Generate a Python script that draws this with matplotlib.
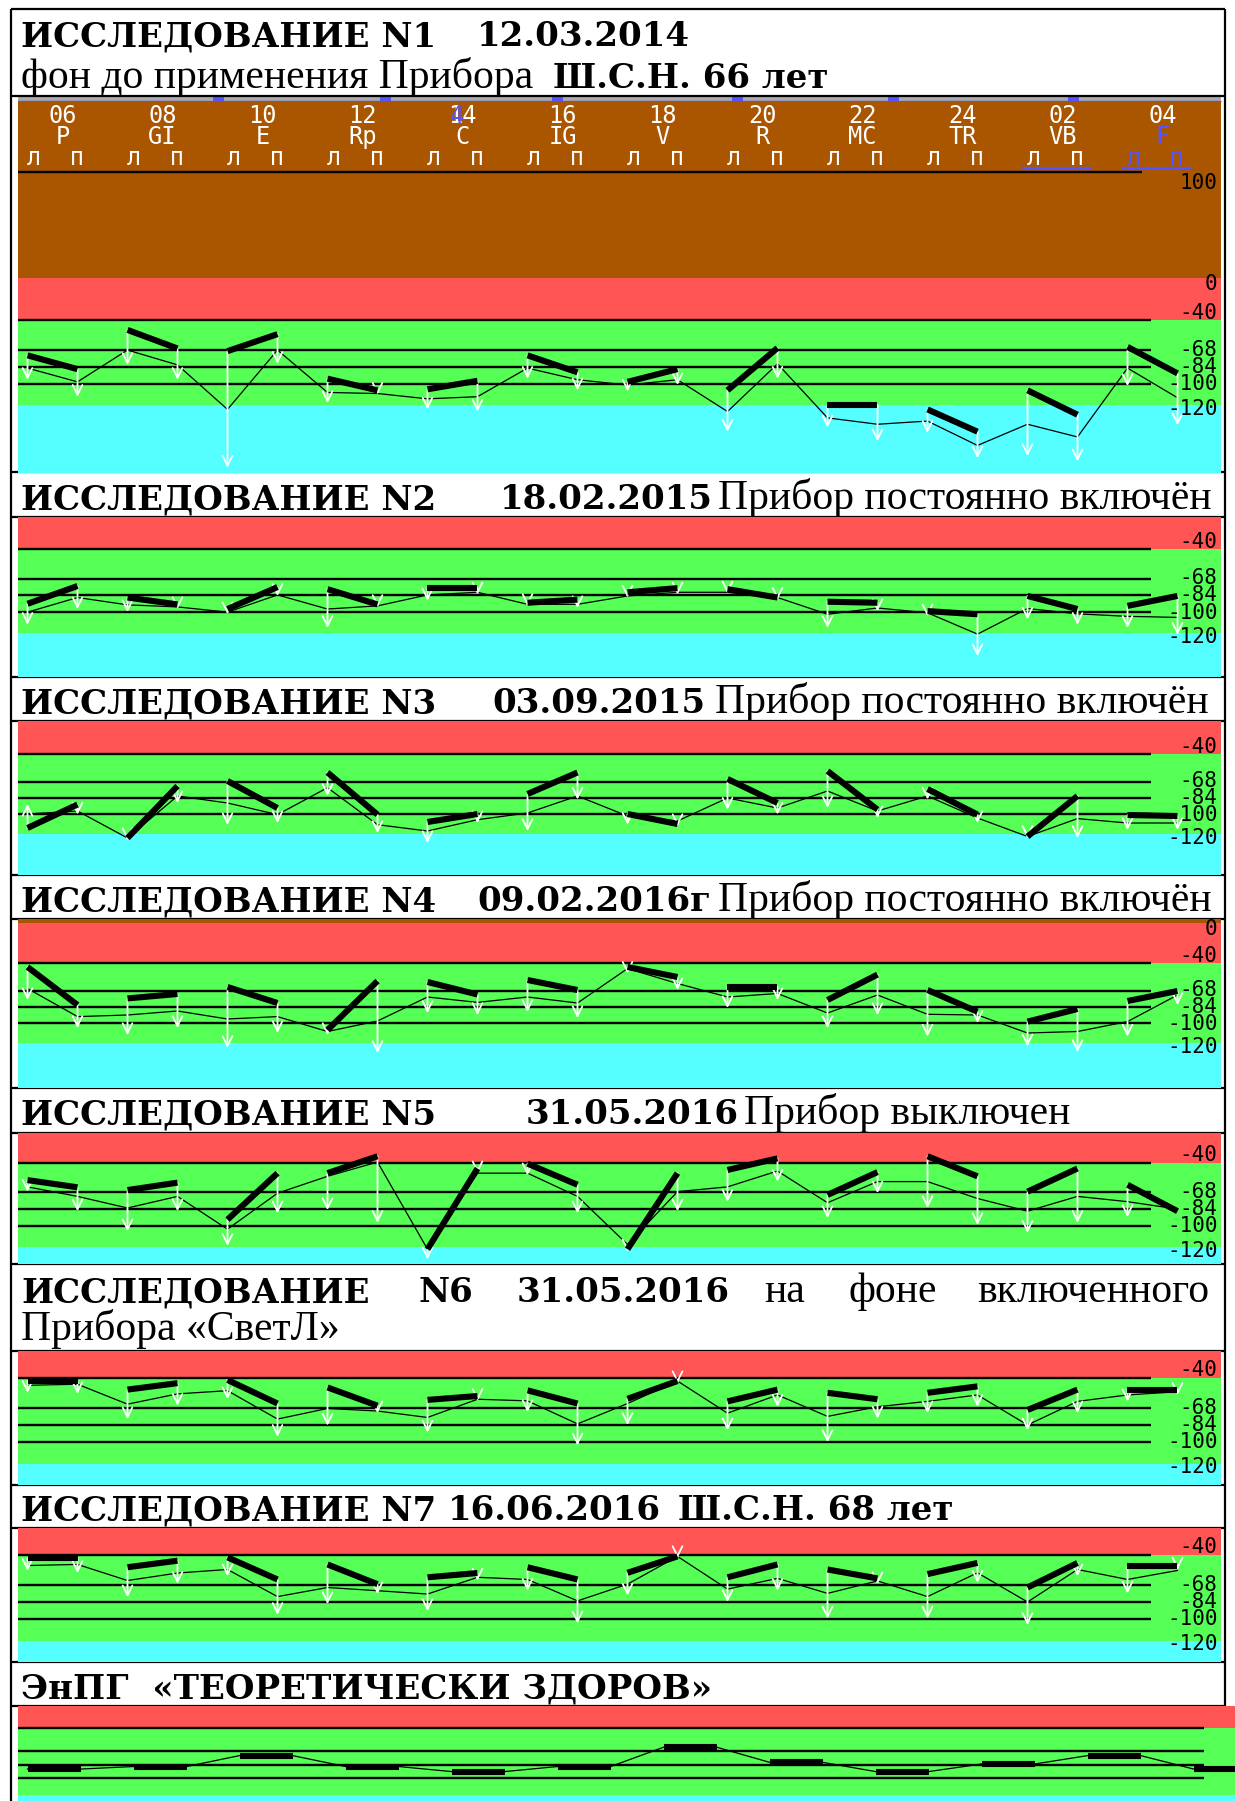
import numpy as np
import matplotlib
matplotlib.use("Agg")
import matplotlib.pyplot as plt
from matplotlib.patches import Rectangle

W, H = 1235, 1801

meridians = ["06", "08", "10", "12", "14", "16", "18", "20", "22", "24", "02", "04"]
channels = ["P", "GI", "E", "Rp", "C", "IG", "V", "R", "MC", "TR", "VB", "F"]
levels = [-40, -68, -84, -100]

# study 1  12.03.2014
s1_top = [-73, -86, -49, -66.5, -69, -53, -95, -106, -105, -97, -73, -89,
          -98, -86, -106, -66, -120, -120, -124, -145, -106, -129, -65, -90]
s1_mid = [-85, -98, -68, -82, -124, -68, -108, -109, -114, -112, -85, -96,
          -101, -96, -126, -81, -132, -138, -135, -158, -138, -150, -85, -113]
s1_tip = [-96, -112, -82, -96, -179, -81, -118, -110, -124, -126, -95, -106,
          -107, -101, -145, -95, -141, -154, -146, -170, -168, -173, -102, -139]

# study 2  18.02.2015
s2_top = [-92, -75, -86, -92.6, -97, -76, -78, -92.6, -77, -77, -91, -88,
          -81, -77, -78, -86, -90, -91, -99, -102, -84.5, -97, -94, -84.5]
s2_mid = [-100, -86, -93, -95, -100, -83.5, -97, -94, -83.5, -81, -92.5, -92.5,
          -84.5, -81, -81, -86, -102, -96, -100.6, -121, -96.5, -101.6, -104, -105]
s2_tip = [-112, -97, -100, -97, -102, -84.5, -115, -95, -89, -83, -94, -96,
          -86, -83, -82, -88, -115, -99, -104, -142, -107, -112, -115, -121.6]

# study 3  03.09.2015
s3_top = [-114, -90.5, -124, -72, -67, -94, -58.5, -100.6, -108, -100, -80, -58.5,
          -100, -110, -65, -89, -57, -95.6, -75, -100.6, -122.5, -82, -101, -102]
s3_mid = [-100, -97, -124, -82, -89, -100.6, -73.7, -110.7, -117, -105.7, -99, -82,
          -102, -107, -84, -94, -77, -97, -82, -104, -122.5, -104.6, -109, -109]
s3_tip = [-90, -100.6, -126, -89, -111, -109, -82, -119, -129, -109, -117, -85.5,
          -110.7, -112, -95.6, -100.6, -94, -104, -85.5, -109, -124, -124, -116, -116]

# study 4  09.02.2016
s4_top = [-44, -82, -75.4, -71, -64, -80, -107, -58, -59, -71.5, -57, -67,
          -44, -54, -64, -64, -77, -51.6, -67, -88.7, -98.6, -86, -78, -68]
s4_mid = [-65.5, -93.6, -92, -88, -96, -93.6, -108.5, -98, -74, -79.4, -74, -80,
          -45.6, -60.5, -74, -70.5, -90, -72, -91.3, -92, -110, -108.5, -98.6, -72]
s4_tip = [-77, -105, -112, -105, -125, -110, -112, -130, -90, -92, -89, -95,
          -50.6, -67, -85, -77, -105, -92, -113.5, -100, -123.4, -129, -113.5, -82]

# study 5  31.05.2016
s5_top = [-56.6, -63.4, -66, -59, -94, -50, -50, -34, -122, -45.6, -41, -61,
          -122, -50, -47, -36, -70.6, -49, -34, -53, -67.5, -45.6, -61, -86]
s5_mid = [-63, -72, -83, -72, -103, -69, -53, -39.5, -122, -50, -50, -72,
          -117.5, -67.5, -63, -48, -78, -58, -58, -74, -86, -72, -77, -84]
s5_tip = [-67.5, -86, -105, -86, -119, -88, -85, -97, -131.5, -50, -52, -88,
          -124, -86, -77, -58, -92.5, -69, -83, -99, -106.5, -97, -91.5, -86]

# study 6  31.05.2016 (SvetL on)
s6_top = [-43, -43, -51, -45, -42, -64, -49, -66, -60.6, -57, -51.7, -64,
          -59.6, -43, -62, -51, -54, -60, -54, -48, -70, -51, -51, -51]
s6_mid = [-47, -46, -64.6, -55, -52, -78.5, -68.6, -71, -77, -60, -61.5, -83,
          -64, -43, -73, -56, -76, -67, -62, -56, -84, -62, -56, -53]
s6_tip = [-54, -55, -78.5, -66, -60, -95, -84.6, -73, -91, -61.5, -72, -103,
          -84, -45, -89, -67, -100, -78, -73, -67, -89, -73, -62, -56]

# study 7  16.06.2016
s7_top = [-43, -43, -51.6, -45.5, -42.4, -63, -49, -67.4, -61, -57, -51.6, -63,
          -56.8, -41.5, -61, -49, -53.7, -62, -58, -47.6, -70.5, -47.6, -50.7, -50.7]
s7_mid = [-50, -49, -64, -57, -53.7, -79, -70.5, -73.5, -76.6, -61, -63, -83,
          -67.4, -41.5, -72, -62, -76, -64.4, -79, -56.8, -84, -53.7, -63, -54.6]
s7_tip = [-55, -57, -79.6, -67, -60, -96, -86, -76.6, -92.4, -64, -73.5, -104,
          -78, -43, -84, -73.5, -99.5, -67.4, -99.5, -66, -105.5, -60, -76, -53.7]

# "theoretically healthy" reference, one value per meridian
healthy = [-89, -86, -73, -86, -92, -86, -63, -81, -92, -83, -73, -89]

BROWN = "#AA5500"
RED = "#FF5555"
GREEN = "#55FF55"
CYAN = "#55FFFF"
BLUE = "#5555FF"
GRAY = "#AAAAAA"
MONO = "DejaVu Sans Mono"

fig = plt.figure(figsize=(W / 100, H / 100), dpi=100)
bg = fig.add_axes([0, 0, 1, 1])
bg.set_xlim(0, W)
bg.set_ylim(H, 0)
bg.axis("off")


def add_panel(y0, y1, ylim, x1=1221, xlim=(-0.19, 23.87), brown=False):
    ax = fig.add_axes([18 / W, 1 - y1 / H, (x1 - 18) / W, (y1 - y0) / H])
    ax.set_xlim(*xlim)
    ax.set_ylim(*ylim)
    ax.axis("off")
    if brown:
        ax.axhspan(0, 400, color=BROWN, lw=0)
        ax.axhspan(-40, 0, color=RED, lw=0)
    else:
        ax.axhspan(-40, 400, color=RED, lw=0)
    ax.axhspan(-120, -40, color=GREEN, lw=0)
    ax.axhspan(-400, -120, color=CYAN, lw=0)
    return ax


def draw_study(ax, top, mid, tip, extra_labels=(), line_end=22.47):
    x = np.arange(len(top))
    ax.hlines(levels, ax.get_xlim()[0], line_end, color="black", lw=1.7, zorder=2)
    ax.plot(x, mid, color="black", lw=0.9, zorder=3)
    for j in range(len(top)):
        if abs(tip[j] - top[j]) > 1:
            ax.annotate("", xy=(j, tip[j]), xytext=(j, top[j]),
                        arrowprops=dict(arrowstyle="->,head_length=0.7,head_width=0.35",
                                        color="white", lw=1.3, shrinkA=0, shrinkB=0),
                        zorder=4)
    for k in range(len(top) // 2):
        ax.plot([2 * k, 2 * k + 1], [top[2 * k], top[2 * k + 1]], color="black",
                lw=4.4, solid_capstyle="butt", zorder=5)
    lab = dict(ha="right", va="center", fontsize=15, family=MONO, color="black", zorder=6)
    for s, yy in extra_labels:
        ax.text(23.8, yy, s, **lab)
    ax.text(23.8, -33, "-40", **lab)
    ax.text(23.8, -84, "-68\n-84\n-100", multialignment="right", linespacing=0.82, **lab)
    ax.text(23.8, -123.5, "-120", **lab)


# panel 1
ax1 = add_panel(101, 473, (-184, 167), brown=True)
draw_study(ax1, s1_top, s1_mid, s1_tip, [("100", 90), ("0", -6)])
ax1.hlines(100, -0.19, 22.3, color="black", lw=1.7)
hdr = dict(ha="center", va="center", fontsize=17, family=MONO, linespacing=0.86,
           multialignment="center")
for k, m in enumerate(meridians):
    if k < 11:
        ax1.text(2 * k + 0.7, 133, m + "\n" + channels[k] + "\nл  п ", color="white", **hdr)
    else:
        ax1.text(2 * k + 0.7, 153, m, color="white", **hdr)
        ax1.text(2 * k + 0.7, 123, channels[k] + "\nл  п ", color=BLUE, **hdr)
    if k >= 10:
        ax1.hlines(104, 2 * k - 0.1, 2 * k + 1.3, color=BLUE, lw=1.6)
ax1.text(8.58, 153, "4", color=BLUE, ha="center", va="center", fontsize=17,
         family=MONO)

# scroll strip above panel 1
bg.add_patch(Rectangle((18, 96), 1203, 5, color=GRAY, lw=0))
bg.hlines(101, 18, 1221, color=BLUE, lw=1)
for bx in [213, 380, 552, 732, 888, 1068]:
    bg.add_patch(Rectangle((bx, 96), 11, 5, color=BLUE, lw=0))

# panels 2-7
ax2 = add_panel(517, 677, (-162, -9))
draw_study(ax2, s2_top, s2_mid, s2_tip)
ax3 = add_panel(721, 875, (-161, -7))
draw_study(ax3, s3_top, s3_mid, s3_tip)
ax4 = add_panel(919, 1088, (-165, 4), brown=True)
draw_study(ax4, s4_top, s4_mid, s4_tip, [("0", -6)])
ax5 = add_panel(1133, 1264, (-136, -12))
draw_study(ax5, s5_top, s5_mid, s5_tip)
ax6 = add_panel(1351, 1485, (-140, -15))
draw_study(ax6, s6_top, s6_mid, s6_tip)
ax7 = add_panel(1528, 1662, (-140, -15))
draw_study(ax7, s7_top, s7_mid, s7_tip)

# panel 8: theoretical norm, stretched wider
ax8 = add_panel(1706, 1801, (-127, -14), x1=1235, xlim=(-0.18, 22.78))
h = np.repeat(healthy, 2)
ax8.hlines(levels, -0.18, 22.2, color="black", lw=1.7, zorder=2)
ax8.plot(np.arange(len(h)), h, color="black", lw=0.9, zorder=3)
for k, v in enumerate(healthy):
    ax8.plot([2 * k, 2 * k + 1], [v, v], color="black", lw=4.4,
             solid_capstyle="butt", zorder=5)

# frame
for yy in [9, 96.5, 472, 517, 677, 721, 875, 919, 1088, 1133, 1264, 1351, 1485, 1528,
           1662, 1706]:
    bg.hlines(yy, 11, 1225, color="black", lw=1.6)
bg.vlines(11, 9, H, color="black", lw=1.6)
bg.vlines(1225, 9, 1706, color="black", lw=1.6)

BF = dict(family="DejaVu Serif", weight="bold", fontsize=24.5, va="baseline")
RF = dict(family="Liberation Serif", fontsize=30, va="baseline")

bg.text(21, 46, "ИССЛЕДОВАНИЕ N1", **BF)
bg.text(477, 46, "12.03.2014", **BF)
bg.text(21, 88, "фон до применения Прибора", **RF)
bg.text(553, 88, "Ш.С.Н. 66 лет", **BF)

bg.text(21, 509, "ИССЛЕДОВАНИЕ N2", **BF)
bg.text(500, 509, "18.02.2015", **BF)
bg.text(718, 509, "Прибор постоянно включён", **RF)

bg.text(21, 713, "ИССЛЕДОВАНИЕ N3", **BF)
bg.text(492, 713, "03.09.2015", **BF)
bg.text(715, 713, "Прибор постоянно включён", **RF)

bg.text(21, 911, "ИССЛЕДОВАНИЕ N4", **BF)
bg.text(477, 911, "09.02.2016г", **BF)
bg.text(718, 911, "Прибор постоянно включён", **RF)

bg.text(21, 1124, "ИССЛЕДОВАНИЕ N5", **BF)
bg.text(526, 1124, "31.05.2016", **BF)
bg.text(744, 1124, "Прибор выключен", **RF)

bg.text(21, 1302, "ИССЛЕДОВАНИЕ", **BF)
bg.text(419, 1302, "N6", **BF)
bg.text(517, 1302, "31.05.2016", **BF)
bg.text(764, 1302, "на", **RF)
bg.text(848, 1302, "фоне", **RF)
bg.text(1209, 1302, "включенного", ha="right", **RF)
bg.text(21, 1340, "Прибора «СветЛ»", **RF)

bg.text(21, 1520, "ИССЛЕДОВАНИЕ N7", **BF)
bg.text(448, 1520, "16.06.2016", **BF)
bg.text(678, 1520, "Ш.С.Н. 68 лет", **BF)

bg.text(21, 1698, "ЭнПГ  «ТЕОРЕТИЧЕСКИ ЗДОРОВ»", **BF)

fig.savefig("out.png", dpi=100)
